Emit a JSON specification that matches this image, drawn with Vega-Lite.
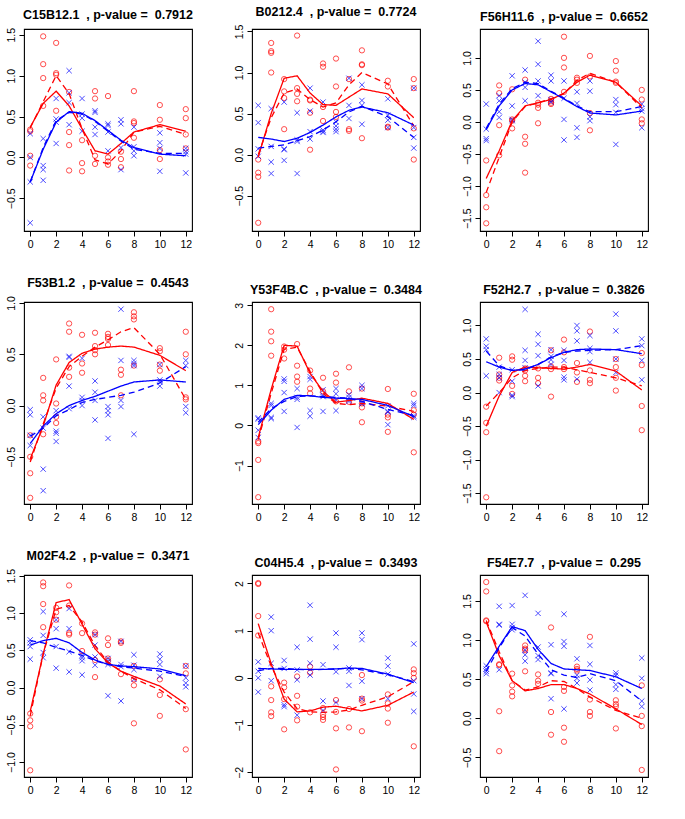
{
"$schema":"https://vega.github.io/schema/vega-lite/v6.json",
"padding":5,
"columns":3,
"spacing":{"row":71,"column":60},
"bounds":"flush",
"config":{
"font":"Liberation Sans",
"view":{"stroke":"#000","strokeWidth":1.1},
"axis":{"domain":false,"grid":false,"tickColor":"#000","tickSize":5,"tickWidth":1,"labelColor":"#000","labelFontSize":10.5,"labelPadding":3,"title":null},
"axisY":{"labelAngle":-90},
"title":{"fontSize":12.5,"fontWeight":"bold","color":"#000","offset":6,"frame":"group","anchor":"middle"}
},
"datasets":{
"P":[
{"p":1,"s":"r","t":0,"v":0.34},{"p":1,"s":"r","t":0,"v":0.32},{"p":1,"s":"r","t":0,"v":0.02},{"p":1,"s":"r","t":0,"v":-0.10},
{"p":1,"s":"r","t":1,"v":1.48},{"p":1,"s":"r","t":1,"v":1.14},{"p":1,"s":"r","t":1,"v":0.97},{"p":1,"s":"r","t":1,"v":0.63},
{"p":1,"s":"r","t":2,"v":1.40},{"p":1,"s":"r","t":2,"v":1.03},{"p":1,"s":"r","t":2,"v":1.01},{"p":1,"s":"r","t":2,"v":0.57},
{"p":1,"s":"r","t":3,"v":0.80},{"p":1,"s":"r","t":3,"v":0.31},{"p":1,"s":"r","t":3,"v":0.15},{"p":1,"s":"r","t":3,"v":-0.16},
{"p":1,"s":"r","t":4,"v":0.21},{"p":1,"s":"r","t":4,"v":-0.07},{"p":1,"s":"r","t":4,"v":-0.17},
{"p":1,"s":"r","t":5,"v":0.81},{"p":1,"s":"r","t":5,"v":0.72},{"p":1,"s":"r","t":5,"v":0.02},{"p":1,"s":"r","t":5,"v":-0.08},
{"p":1,"s":"r","t":6,"v":0.75},{"p":1,"s":"r","t":6,"v":0.00},{"p":1,"s":"r","t":6,"v":-0.05},{"p":1,"s":"r","t":6,"v":-0.09},
{"p":1,"s":"r","t":7,"v":0.07},{"p":1,"s":"r","t":7,"v":-0.02},{"p":1,"s":"r","t":7,"v":-0.12},
{"p":1,"s":"r","t":8,"v":0.81},{"p":1,"s":"r","t":8,"v":0.44},{"p":1,"s":"r","t":8,"v":0.42},{"p":1,"s":"r","t":8,"v":0.24},
{"p":1,"s":"r","t":10,"v":0.64},{"p":1,"s":"r","t":10,"v":0.46},{"p":1,"s":"r","t":10,"v":0.09},{"p":1,"s":"r","t":10,"v":-0.02},
{"p":1,"s":"r","t":12,"v":0.59},{"p":1,"s":"r","t":12,"v":0.48},{"p":1,"s":"r","t":12,"v":0.28},{"p":1,"s":"r","t":12,"v":0.11},
{"p":1,"s":"b","t":0,"v":0.29},{"p":1,"s":"b","t":0,"v":0.00},{"p":1,"s":"b","t":0,"v":-0.30},{"p":1,"s":"b","t":0,"v":-0.80},
{"p":1,"s":"b","t":1,"v":0.23},{"p":1,"s":"b","t":1,"v":-0.10},{"p":1,"s":"b","t":1,"v":-0.15},{"p":1,"s":"b","t":1,"v":-0.28},
{"p":1,"s":"b","t":2,"v":0.72},{"p":1,"s":"b","t":2,"v":0.47},{"p":1,"s":"b","t":2,"v":0.43},{"p":1,"s":"b","t":2,"v":0.17},
{"p":1,"s":"b","t":3,"v":1.06},{"p":1,"s":"b","t":3,"v":0.79},{"p":1,"s":"b","t":3,"v":0.67},{"p":1,"s":"b","t":3,"v":0.40},
{"p":1,"s":"b","t":4,"v":0.72},{"p":1,"s":"b","t":4,"v":0.53},{"p":1,"s":"b","t":4,"v":0.48},{"p":1,"s":"b","t":4,"v":0.32},
{"p":1,"s":"b","t":5,"v":0.57},{"p":1,"s":"b","t":5,"v":0.55},{"p":1,"s":"b","t":5,"v":0.37},{"p":1,"s":"b","t":5,"v":0.28},
{"p":1,"s":"b","t":6,"v":0.41},{"p":1,"s":"b","t":6,"v":0.39},{"p":1,"s":"b","t":6,"v":0.31},{"p":1,"s":"b","t":6,"v":0.08},
{"p":1,"s":"b","t":7,"v":0.46},{"p":1,"s":"b","t":7,"v":0.41},{"p":1,"s":"b","t":7,"v":0.12},{"p":1,"s":"b","t":7,"v":-0.15},
{"p":1,"s":"b","t":8,"v":0.37},{"p":1,"s":"b","t":8,"v":0.13},{"p":1,"s":"b","t":8,"v":0.08},{"p":1,"s":"b","t":8,"v":0.02},
{"p":1,"s":"b","t":10,"v":0.30},{"p":1,"s":"b","t":10,"v":0.18},{"p":1,"s":"b","t":10,"v":0.11},{"p":1,"s":"b","t":10,"v":-0.17},
{"p":1,"s":"b","t":12,"v":0.11},{"p":1,"s":"b","t":12,"v":0.07},{"p":1,"s":"b","t":12,"v":0.04},{"p":1,"s":"b","t":12,"v":-0.19},

{"p":2,"s":"r","t":0,"v":-0.06},{"p":2,"s":"r","t":0,"v":-0.22},{"p":2,"s":"r","t":0,"v":-0.27},{"p":2,"s":"r","t":0,"v":-0.83},
{"p":2,"s":"r","t":1,"v":1.36},{"p":2,"s":"r","t":1,"v":1.26},{"p":2,"s":"r","t":1,"v":1.24},{"p":2,"s":"r","t":1,"v":1.00},
{"p":2,"s":"r","t":2,"v":0.92},{"p":2,"s":"r","t":2,"v":0.77},{"p":2,"s":"r","t":2,"v":0.69},{"p":2,"s":"r","t":2,"v":0.31},
{"p":2,"s":"r","t":3,"v":1.45},{"p":2,"s":"r","t":3,"v":0.81},{"p":2,"s":"r","t":3,"v":0.74},{"p":2,"s":"r","t":3,"v":0.65},
{"p":2,"s":"r","t":4,"v":0.67},{"p":2,"s":"r","t":4,"v":0.66},{"p":2,"s":"r","t":4,"v":0.51},{"p":2,"s":"r","t":4,"v":0.06},
{"p":2,"s":"r","t":5,"v":1.11},{"p":2,"s":"r","t":5,"v":1.07},{"p":2,"s":"r","t":5,"v":0.58},{"p":2,"s":"r","t":5,"v":0.41},
{"p":2,"s":"r","t":6,"v":1.17},{"p":2,"s":"r","t":6,"v":0.83},{"p":2,"s":"r","t":6,"v":0.52},{"p":2,"s":"r","t":6,"v":0.46},
{"p":2,"s":"r","t":7,"v":0.92},{"p":2,"s":"r","t":7,"v":0.31},{"p":2,"s":"r","t":7,"v":0.29},
{"p":2,"s":"r","t":8,"v":1.27},{"p":2,"s":"r","t":8,"v":1.10},{"p":2,"s":"r","t":8,"v":1.09},{"p":2,"s":"r","t":8,"v":0.20},
{"p":2,"s":"r","t":10,"v":0.90},{"p":2,"s":"r","t":10,"v":0.83},{"p":2,"s":"r","t":10,"v":0.34},{"p":2,"s":"r","t":10,"v":0.33},
{"p":2,"s":"r","t":12,"v":0.92},{"p":2,"s":"r","t":12,"v":0.81},{"p":2,"s":"r","t":12,"v":0.32},{"p":2,"s":"r","t":12,"v":-0.06},
{"p":2,"s":"b","t":0,"v":0.60},{"p":2,"s":"b","t":0,"v":0.39},{"p":2,"s":"b","t":0,"v":0.07},{"p":2,"s":"b","t":0,"v":-0.02},
{"p":2,"s":"b","t":1,"v":0.56},{"p":2,"s":"b","t":1,"v":0.10},{"p":2,"s":"b","t":1,"v":-0.09},{"p":2,"s":"b","t":1,"v":-0.23},
{"p":2,"s":"b","t":2,"v":0.64},{"p":2,"s":"b","t":2,"v":0.07},{"p":2,"s":"b","t":2,"v":0.06},{"p":2,"s":"b","t":2,"v":-0.07},
{"p":2,"s":"b","t":3,"v":0.51},{"p":2,"s":"b","t":3,"v":0.18},{"p":2,"s":"b","t":3,"v":0.16},{"p":2,"s":"b","t":3,"v":-0.23},
{"p":2,"s":"b","t":4,"v":0.81},{"p":2,"s":"b","t":4,"v":0.53},{"p":2,"s":"b","t":4,"v":0.28},{"p":2,"s":"b","t":4,"v":0.19},
{"p":2,"s":"b","t":5,"v":0.64},{"p":2,"s":"b","t":5,"v":0.30},{"p":2,"s":"b","t":5,"v":0.28},{"p":2,"s":"b","t":5,"v":0.27},
{"p":2,"s":"b","t":6,"v":0.40},{"p":2,"s":"b","t":6,"v":0.35},{"p":2,"s":"b","t":6,"v":0.31},{"p":2,"s":"b","t":6,"v":0.28},
{"p":2,"s":"b","t":7,"v":0.93},{"p":2,"s":"b","t":7,"v":0.60},{"p":2,"s":"b","t":7,"v":0.44},
{"p":2,"s":"b","t":8,"v":0.85},{"p":2,"s":"b","t":8,"v":0.66},{"p":2,"s":"b","t":8,"v":0.60},{"p":2,"s":"b","t":8,"v":0.37},
{"p":2,"s":"b","t":10,"v":0.68},{"p":2,"s":"b","t":10,"v":0.48},{"p":2,"s":"b","t":10,"v":0.42},{"p":2,"s":"b","t":10,"v":0.33},
{"p":2,"s":"b","t":12,"v":0.81},{"p":2,"s":"b","t":12,"v":0.33},{"p":2,"s":"b","t":12,"v":0.21},{"p":2,"s":"b","t":12,"v":0.08},

{"p":3,"s":"r","t":0,"v":-0.60},{"p":3,"s":"r","t":0,"v":-1.14},{"p":3,"s":"r","t":0,"v":-1.33},{"p":3,"s":"r","t":0,"v":-1.58},
{"p":3,"s":"r","t":1,"v":0.57},{"p":3,"s":"r","t":1,"v":0.45},{"p":3,"s":"r","t":1,"v":-0.05},{"p":3,"s":"r","t":1,"v":-0.52},
{"p":3,"s":"r","t":2,"v":0.51},{"p":3,"s":"r","t":2,"v":0.04},{"p":3,"s":"r","t":2,"v":0.02},{"p":3,"s":"r","t":2,"v":-0.10},
{"p":3,"s":"r","t":3,"v":0.66},{"p":3,"s":"r","t":3,"v":-0.23},{"p":3,"s":"r","t":3,"v":-0.34},{"p":3,"s":"r","t":3,"v":-0.79},
{"p":3,"s":"r","t":4,"v":0.30},{"p":3,"s":"r","t":4,"v":0.27},{"p":3,"s":"r","t":4,"v":0.22},{"p":3,"s":"r","t":4,"v":-0.02},
{"p":3,"s":"r","t":5,"v":0.36},{"p":3,"s":"r","t":5,"v":0.33},{"p":3,"s":"r","t":5,"v":0.30},{"p":3,"s":"r","t":5,"v":0.28},
{"p":3,"s":"r","t":6,"v":1.33},{"p":3,"s":"r","t":6,"v":1.00},{"p":3,"s":"r","t":6,"v":0.85},{"p":3,"s":"r","t":6,"v":0.47},
{"p":3,"s":"r","t":7,"v":0.69},{"p":3,"s":"r","t":7,"v":0.66},{"p":3,"s":"r","t":7,"v":0.61},
{"p":3,"s":"r","t":8,"v":1.03},{"p":3,"s":"r","t":8,"v":0.71},{"p":3,"s":"r","t":8,"v":0.14},{"p":3,"s":"r","t":8,"v":-0.13},
{"p":3,"s":"r","t":10,"v":0.95},{"p":3,"s":"r","t":10,"v":0.80},{"p":3,"s":"r","t":10,"v":0.63},{"p":3,"s":"r","t":10,"v":0.61},
{"p":3,"s":"r","t":12,"v":0.50},{"p":3,"s":"r","t":12,"v":0.35},{"p":3,"s":"r","t":12,"v":0.04},{"p":3,"s":"r","t":12,"v":-0.02},
{"p":3,"s":"b","t":0,"v":0.28},{"p":3,"s":"b","t":0,"v":-0.11},{"p":3,"s":"b","t":0,"v":-0.26},{"p":3,"s":"b","t":0,"v":-0.29},
{"p":3,"s":"b","t":1,"v":0.41},{"p":3,"s":"b","t":1,"v":0.33},{"p":3,"s":"b","t":1,"v":0.16},{"p":3,"s":"b","t":1,"v":0.07},
{"p":3,"s":"b","t":2,"v":0.72},{"p":3,"s":"b","t":2,"v":0.25},{"p":3,"s":"b","t":2,"v":0.04},{"p":3,"s":"b","t":2,"v":0.02},
{"p":3,"s":"b","t":3,"v":0.81},{"p":3,"s":"b","t":3,"v":0.62},{"p":3,"s":"b","t":3,"v":0.54},{"p":3,"s":"b","t":3,"v":0.33},
{"p":3,"s":"b","t":4,"v":1.26},{"p":3,"s":"b","t":4,"v":0.90},{"p":3,"s":"b","t":4,"v":0.64},{"p":3,"s":"b","t":4,"v":0.41},
{"p":3,"s":"b","t":5,"v":0.73},{"p":3,"s":"b","t":5,"v":0.64},{"p":3,"s":"b","t":5,"v":0.35},{"p":3,"s":"b","t":5,"v":0.31},
{"p":3,"s":"b","t":6,"v":0.64},{"p":3,"s":"b","t":6,"v":0.37},{"p":3,"s":"b","t":6,"v":0.04},{"p":3,"s":"b","t":6,"v":-0.28},
{"p":3,"s":"b","t":7,"v":0.47},{"p":3,"s":"b","t":7,"v":0.29},{"p":3,"s":"b","t":7,"v":-0.09},{"p":3,"s":"b","t":7,"v":-0.24},
{"p":3,"s":"b","t":8,"v":0.64},{"p":3,"s":"b","t":8,"v":0.48},{"p":3,"s":"b","t":8,"v":0.08},{"p":3,"s":"b","t":8,"v":0.02},
{"p":3,"s":"b","t":10,"v":0.35},{"p":3,"s":"b","t":10,"v":0.27},{"p":3,"s":"b","t":10,"v":0.15},{"p":3,"s":"b","t":10,"v":-0.35},
{"p":3,"s":"b","t":12,"v":0.28},{"p":3,"s":"b","t":12,"v":0.21},{"p":3,"s":"b","t":12,"v":0.17},{"p":3,"s":"b","t":12,"v":-0.09},

{"p":4,"s":"r","t":0,"v":-0.29},{"p":4,"s":"r","t":0,"v":-0.50},{"p":4,"s":"r","t":0,"v":-0.66},{"p":4,"s":"r","t":0,"v":-0.90},
{"p":4,"s":"r","t":1,"v":0.27},{"p":4,"s":"r","t":1,"v":0.10},{"p":4,"s":"r","t":1,"v":0.05},{"p":4,"s":"r","t":1,"v":-0.28},
{"p":4,"s":"r","t":2,"v":0.45},{"p":4,"s":"r","t":2,"v":0.02},{"p":4,"s":"r","t":2,"v":-0.11},{"p":4,"s":"r","t":2,"v":-0.17},
{"p":4,"s":"r","t":3,"v":0.80},{"p":4,"s":"r","t":3,"v":0.72},{"p":4,"s":"r","t":3,"v":0.37},{"p":4,"s":"r","t":3,"v":0.28},
{"p":4,"s":"r","t":4,"v":0.69},{"p":4,"s":"r","t":4,"v":0.41},{"p":4,"s":"r","t":4,"v":0.32},
{"p":4,"s":"r","t":5,"v":0.71},{"p":4,"s":"r","t":5,"v":0.58},{"p":4,"s":"r","t":5,"v":0.54},{"p":4,"s":"r","t":5,"v":0.50},
{"p":4,"s":"r","t":6,"v":0.70},{"p":4,"s":"r","t":6,"v":0.67},{"p":4,"s":"r","t":6,"v":0.65},{"p":4,"s":"r","t":6,"v":0.59},
{"p":4,"s":"r","t":7,"v":0.35},{"p":4,"s":"r","t":7,"v":0.30},{"p":4,"s":"r","t":7,"v":0.10},
{"p":4,"s":"r","t":8,"v":0.91},{"p":4,"s":"r","t":8,"v":0.87},{"p":4,"s":"r","t":8,"v":0.84},{"p":4,"s":"r","t":8,"v":0.39},
{"p":4,"s":"r","t":10,"v":0.56},{"p":4,"s":"r","t":10,"v":0.53},{"p":4,"s":"r","t":10,"v":0.40},{"p":4,"s":"r","t":10,"v":0.34},
{"p":4,"s":"r","t":12,"v":0.72},{"p":4,"s":"r","t":12,"v":0.50},{"p":4,"s":"r","t":12,"v":0.08},{"p":4,"s":"r","t":12,"v":0.06},
{"p":4,"s":"b","t":0,"v":-0.04},{"p":4,"s":"b","t":0,"v":-0.09},{"p":4,"s":"b","t":0,"v":-0.29},{"p":4,"s":"b","t":0,"v":-0.39},
{"p":4,"s":"b","t":1,"v":-0.11},{"p":4,"s":"b","t":1,"v":-0.22},{"p":4,"s":"b","t":1,"v":-0.62},{"p":4,"s":"b","t":1,"v":-0.83},
{"p":4,"s":"b","t":2,"v":-0.05},{"p":4,"s":"b","t":2,"v":-0.25},{"p":4,"s":"b","t":2,"v":-0.27},{"p":4,"s":"b","t":2,"v":-0.35},
{"p":4,"s":"b","t":3,"v":0.48},{"p":4,"s":"b","t":3,"v":0.47},{"p":4,"s":"b","t":3,"v":0.19},{"p":4,"s":"b","t":3,"v":-0.03},
{"p":4,"s":"b","t":4,"v":0.46},{"p":4,"s":"b","t":4,"v":0.08},{"p":4,"s":"b","t":4,"v":0.05},{"p":4,"s":"b","t":4,"v":0.00},
{"p":4,"s":"b","t":5,"v":0.24},{"p":4,"s":"b","t":5,"v":0.13},{"p":4,"s":"b","t":5,"v":0.05},{"p":4,"s":"b","t":5,"v":-0.14},
{"p":4,"s":"b","t":6,"v":-0.01},{"p":4,"s":"b","t":6,"v":-0.05},{"p":4,"s":"b","t":6,"v":-0.09},{"p":4,"s":"b","t":6,"v":-0.32},
{"p":4,"s":"b","t":7,"v":0.94},{"p":4,"s":"b","t":7,"v":0.44},{"p":4,"s":"b","t":7,"v":0.05},{"p":4,"s":"b","t":7,"v":-0.01},
{"p":4,"s":"b","t":8,"v":0.44},{"p":4,"s":"b","t":8,"v":0.41},{"p":4,"s":"b","t":8,"v":0.39},{"p":4,"s":"b","t":8,"v":-0.28},
{"p":4,"s":"b","t":10,"v":0.40},{"p":4,"s":"b","t":10,"v":0.25},{"p":4,"s":"b","t":10,"v":0.23},{"p":4,"s":"b","t":10,"v":0.19},
{"p":4,"s":"b","t":12,"v":0.44},{"p":4,"s":"b","t":12,"v":0.39},{"p":4,"s":"b","t":12,"v":-0.01},{"p":4,"s":"b","t":12,"v":-0.07},

{"p":5,"s":"r","t":0,"v":-0.40},{"p":5,"s":"r","t":0,"v":-0.44},{"p":5,"s":"r","t":0,"v":-0.86},{"p":5,"s":"r","t":0,"v":-1.79},
{"p":5,"s":"r","t":1,"v":2.90},{"p":5,"s":"r","t":1,"v":2.34},{"p":5,"s":"r","t":1,"v":2.10},{"p":5,"s":"r","t":1,"v":1.74},
{"p":5,"s":"r","t":2,"v":1.97},{"p":5,"s":"r","t":2,"v":1.89},{"p":5,"s":"r","t":2,"v":1.67},
{"p":5,"s":"r","t":3,"v":2.03},{"p":5,"s":"r","t":3,"v":1.49},{"p":5,"s":"r","t":3,"v":1.22},{"p":5,"s":"r","t":3,"v":1.09},
{"p":5,"s":"r","t":4,"v":1.37},{"p":5,"s":"r","t":4,"v":0.92},{"p":5,"s":"r","t":4,"v":0.80},
{"p":5,"s":"r","t":5,"v":1.19},{"p":5,"s":"r","t":5,"v":0.85},
{"p":5,"s":"r","t":6,"v":1.29},{"p":5,"s":"r","t":6,"v":1.07},{"p":5,"s":"r","t":6,"v":0.60},
{"p":5,"s":"r","t":7,"v":1.45},{"p":5,"s":"r","t":7,"v":0.85},{"p":5,"s":"r","t":7,"v":0.59},
{"p":5,"s":"r","t":8,"v":0.92},{"p":5,"s":"r","t":8,"v":0.55},{"p":5,"s":"r","t":8,"v":0.45},{"p":5,"s":"r","t":8,"v":0.08},
{"p":5,"s":"r","t":10,"v":0.91},{"p":5,"s":"r","t":10,"v":0.27},{"p":5,"s":"r","t":10,"v":0.20},{"p":5,"s":"r","t":10,"v":-0.16},
{"p":5,"s":"r","t":12,"v":0.79},{"p":5,"s":"r","t":12,"v":0.38},{"p":5,"s":"r","t":12,"v":0.27},{"p":5,"s":"r","t":12,"v":-0.67},
{"p":5,"s":"b","t":0,"v":0.19},{"p":5,"s":"b","t":0,"v":0.16},{"p":5,"s":"b","t":0,"v":-0.12},{"p":5,"s":"b","t":0,"v":-0.30},
{"p":5,"s":"b","t":1,"v":0.55},{"p":5,"s":"b","t":1,"v":0.50},{"p":5,"s":"b","t":1,"v":0.20},{"p":5,"s":"b","t":1,"v":0.17},
{"p":5,"s":"b","t":2,"v":1.16},{"p":5,"s":"b","t":2,"v":1.10},{"p":5,"s":"b","t":2,"v":0.82},{"p":5,"s":"b","t":2,"v":0.35},
{"p":5,"s":"b","t":3,"v":0.92},{"p":5,"s":"b","t":3,"v":0.70},{"p":5,"s":"b","t":3,"v":0.65},{"p":5,"s":"b","t":3,"v":-0.05},
{"p":5,"s":"b","t":4,"v":1.22},{"p":5,"s":"b","t":4,"v":1.15},{"p":5,"s":"b","t":4,"v":0.37},{"p":5,"s":"b","t":4,"v":0.23},
{"p":5,"s":"b","t":5,"v":0.89},{"p":5,"s":"b","t":5,"v":0.75},{"p":5,"s":"b","t":5,"v":0.72},{"p":5,"s":"b","t":5,"v":0.35},
{"p":5,"s":"b","t":6,"v":0.92},{"p":5,"s":"b","t":6,"v":0.79},{"p":5,"s":"b","t":6,"v":0.64},{"p":5,"s":"b","t":6,"v":0.37},
{"p":5,"s":"b","t":7,"v":0.77},{"p":5,"s":"b","t":7,"v":0.70},{"p":5,"s":"b","t":7,"v":0.64},{"p":5,"s":"b","t":7,"v":0.60},
{"p":5,"s":"b","t":8,"v":1.00},{"p":5,"s":"b","t":8,"v":0.92},{"p":5,"s":"b","t":8,"v":0.57},{"p":5,"s":"b","t":8,"v":0.54},
{"p":5,"s":"b","t":10,"v":0.49},{"p":5,"s":"b","t":10,"v":0.35},{"p":5,"s":"b","t":10,"v":0.33},{"p":5,"s":"b","t":10,"v":0.02},
{"p":5,"s":"b","t":12,"v":0.55},{"p":5,"s":"b","t":12,"v":0.50},{"p":5,"s":"b","t":12,"v":0.24},{"p":5,"s":"b","t":12,"v":0.20},

{"p":6,"s":"r","t":0,"v":-0.21},{"p":6,"s":"r","t":0,"v":-0.45},{"p":6,"s":"r","t":0,"v":-0.59},{"p":6,"s":"r","t":0,"v":-1.56},
{"p":6,"s":"r","t":1,"v":0.52},{"p":6,"s":"r","t":1,"v":0.27},{"p":6,"s":"r","t":1,"v":0.22},{"p":6,"s":"r","t":1,"v":0.18},
{"p":6,"s":"r","t":2,"v":0.54},{"p":6,"s":"r","t":2,"v":0.49},{"p":6,"s":"r","t":2,"v":0.10},{"p":6,"s":"r","t":2,"v":-0.02},
{"p":6,"s":"r","t":3,"v":0.36},{"p":6,"s":"r","t":3,"v":0.33},{"p":6,"s":"r","t":3,"v":0.25},{"p":6,"s":"r","t":3,"v":0.17},
{"p":6,"s":"r","t":4,"v":0.36},{"p":6,"s":"r","t":4,"v":0.22},{"p":6,"s":"r","t":4,"v":0.14},
{"p":6,"s":"r","t":5,"v":0.63},{"p":6,"s":"r","t":5,"v":0.39},{"p":6,"s":"r","t":5,"v":0.35},{"p":6,"s":"r","t":5,"v":-0.06},
{"p":6,"s":"r","t":6,"v":0.79},{"p":6,"s":"r","t":6,"v":0.60},{"p":6,"s":"r","t":6,"v":0.38},{"p":6,"s":"r","t":6,"v":0.35},
{"p":6,"s":"r","t":7,"v":0.44},{"p":6,"s":"r","t":7,"v":0.30},{"p":6,"s":"r","t":7,"v":0.16},
{"p":6,"s":"r","t":8,"v":0.91},{"p":6,"s":"r","t":8,"v":0.33},{"p":6,"s":"r","t":8,"v":0.19},{"p":6,"s":"r","t":8,"v":0.14},
{"p":6,"s":"r","t":10,"v":0.50},{"p":6,"s":"r","t":10,"v":0.38},{"p":6,"s":"r","t":10,"v":0.22},{"p":6,"s":"r","t":10,"v":0.03},
{"p":6,"s":"r","t":12,"v":0.59},{"p":6,"s":"r","t":12,"v":0.41},{"p":6,"s":"r","t":12,"v":-0.20},{"p":6,"s":"r","t":12,"v":-0.56},
{"p":6,"s":"b","t":0,"v":0.80},{"p":6,"s":"b","t":0,"v":0.69},{"p":6,"s":"b","t":0,"v":0.64},{"p":6,"s":"b","t":0,"v":0.25},
{"p":6,"s":"b","t":1,"v":0.38},{"p":6,"s":"b","t":1,"v":0.27},{"p":6,"s":"b","t":1,"v":0.22},{"p":6,"s":"b","t":1,"v":0.00},
{"p":6,"s":"b","t":2,"v":0.34},{"p":6,"s":"b","t":2,"v":0.17},{"p":6,"s":"b","t":2,"v":-0.04},{"p":6,"s":"b","t":2,"v":-0.06},
{"p":6,"s":"b","t":3,"v":1.24},{"p":6,"s":"b","t":3,"v":0.63},{"p":6,"s":"b","t":3,"v":0.48},{"p":6,"s":"b","t":3,"v":0.37},
{"p":6,"s":"b","t":4,"v":0.87},{"p":6,"s":"b","t":4,"v":0.72},{"p":6,"s":"b","t":4,"v":0.55},{"p":6,"s":"b","t":4,"v":0.10},
{"p":6,"s":"b","t":5,"v":0.64},{"p":6,"s":"b","t":5,"v":0.54},{"p":6,"s":"b","t":5,"v":0.49},{"p":6,"s":"b","t":5,"v":0.42},
{"p":6,"s":"b","t":6,"v":0.63},{"p":6,"s":"b","t":6,"v":0.48},{"p":6,"s":"b","t":6,"v":0.23},{"p":6,"s":"b","t":6,"v":0.19},
{"p":6,"s":"b","t":7,"v":1.00},{"p":6,"s":"b","t":7,"v":0.92},{"p":6,"s":"b","t":7,"v":0.77},{"p":6,"s":"b","t":7,"v":0.20},
{"p":6,"s":"b","t":8,"v":0.85},{"p":6,"s":"b","t":8,"v":0.66},{"p":6,"s":"b","t":8,"v":0.61},{"p":6,"s":"b","t":8,"v":0.45},
{"p":6,"s":"b","t":10,"v":1.17},{"p":6,"s":"b","t":10,"v":0.92},{"p":6,"s":"b","t":10,"v":0.50},{"p":6,"s":"b","t":10,"v":0.30},
{"p":6,"s":"b","t":12,"v":0.80},{"p":6,"s":"b","t":12,"v":0.70},{"p":6,"s":"b","t":12,"v":0.48},{"p":6,"s":"b","t":12,"v":0.19},

{"p":7,"s":"r","t":0,"v":-0.35},{"p":7,"s":"r","t":0,"v":-0.44},{"p":7,"s":"r","t":0,"v":-0.52},{"p":7,"s":"r","t":0,"v":-1.11},
{"p":7,"s":"r","t":1,"v":1.41},{"p":7,"s":"r","t":1,"v":1.36},{"p":7,"s":"r","t":1,"v":1.12},{"p":7,"s":"r","t":1,"v":0.81},
{"p":7,"s":"r","t":2,"v":1.07},{"p":7,"s":"r","t":2,"v":1.01},{"p":7,"s":"r","t":2,"v":0.91},
{"p":7,"s":"r","t":3,"v":1.37},{"p":7,"s":"r","t":3,"v":1.10},{"p":7,"s":"r","t":3,"v":0.73},{"p":7,"s":"r","t":3,"v":0.71},
{"p":7,"s":"r","t":4,"v":0.86},{"p":7,"s":"r","t":4,"v":0.73},{"p":7,"s":"r","t":4,"v":0.49},
{"p":7,"s":"r","t":5,"v":0.74},{"p":7,"s":"r","t":5,"v":0.71},{"p":7,"s":"r","t":5,"v":0.37},{"p":7,"s":"r","t":5,"v":0.14},
{"p":7,"s":"r","t":6,"v":0.66},{"p":7,"s":"r","t":6,"v":0.57},{"p":7,"s":"r","t":6,"v":0.39},{"p":7,"s":"r","t":6,"v":0.36},
{"p":7,"s":"r","t":7,"v":0.62},{"p":7,"s":"r","t":7,"v":0.60},{"p":7,"s":"r","t":7,"v":0.18},
{"p":7,"s":"r","t":8,"v":0.29},{"p":7,"s":"r","t":8,"v":0.11},{"p":7,"s":"r","t":8,"v":0.03},{"p":7,"s":"r","t":8,"v":-0.48},
{"p":7,"s":"r","t":10,"v":0.11},{"p":7,"s":"r","t":10,"v":-0.10},{"p":7,"s":"r","t":10,"v":-0.38},
{"p":7,"s":"r","t":12,"v":0.29},{"p":7,"s":"r","t":12,"v":0.19},{"p":7,"s":"r","t":12,"v":-0.29},{"p":7,"s":"r","t":12,"v":-0.83},
{"p":7,"s":"b","t":0,"v":0.64},{"p":7,"s":"b","t":0,"v":0.60},{"p":7,"s":"b","t":0,"v":0.55},{"p":7,"s":"b","t":0,"v":0.38},
{"p":7,"s":"b","t":1,"v":1.02},{"p":7,"s":"b","t":1,"v":0.70},{"p":7,"s":"b","t":1,"v":0.47},{"p":7,"s":"b","t":1,"v":0.40},
{"p":7,"s":"b","t":2,"v":0.91},{"p":7,"s":"b","t":2,"v":0.79},{"p":7,"s":"b","t":2,"v":0.55},{"p":7,"s":"b","t":2,"v":0.26},
{"p":7,"s":"b","t":3,"v":1.06},{"p":7,"s":"b","t":3,"v":0.79},{"p":7,"s":"b","t":3,"v":0.48},{"p":7,"s":"b","t":3,"v":0.21},
{"p":7,"s":"b","t":4,"v":0.43},{"p":7,"s":"b","t":4,"v":0.40},{"p":7,"s":"b","t":4,"v":0.36},{"p":7,"s":"b","t":4,"v":0.17},
{"p":7,"s":"b","t":5,"v":0.71},{"p":7,"s":"b","t":5,"v":0.57},{"p":7,"s":"b","t":5,"v":0.41},{"p":7,"s":"b","t":5,"v":0.30},
{"p":7,"s":"b","t":6,"v":0.39},{"p":7,"s":"b","t":6,"v":0.35},{"p":7,"s":"b","t":6,"v":0.31},{"p":7,"s":"b","t":6,"v":-0.11},
{"p":7,"s":"b","t":7,"v":0.62},{"p":7,"s":"b","t":7,"v":0.31},{"p":7,"s":"b","t":7,"v":0.28},{"p":7,"s":"b","t":7,"v":-0.18},
{"p":7,"s":"b","t":8,"v":0.44},{"p":7,"s":"b","t":8,"v":0.30},{"p":7,"s":"b","t":8,"v":0.24},{"p":7,"s":"b","t":8,"v":0.11},
{"p":7,"s":"b","t":10,"v":0.45},{"p":7,"s":"b","t":10,"v":0.38},{"p":7,"s":"b","t":10,"v":0.31},{"p":7,"s":"b","t":10,"v":0.15},
{"p":7,"s":"b","t":12,"v":0.29},{"p":7,"s":"b","t":12,"v":0.13},{"p":7,"s":"b","t":12,"v":0.06},{"p":7,"s":"b","t":12,"v":0.01},

{"p":8,"s":"r","t":0,"v":2.01},{"p":8,"s":"r","t":0,"v":1.99},{"p":8,"s":"r","t":0,"v":1.31},{"p":8,"s":"r","t":0,"v":0.90},
{"p":8,"s":"r","t":1,"v":-0.18},{"p":8,"s":"r","t":1,"v":-0.47},{"p":8,"s":"r","t":1,"v":-0.73},{"p":8,"s":"r","t":1,"v":-0.81},
{"p":8,"s":"r","t":2,"v":-0.10},{"p":8,"s":"r","t":2,"v":-0.20},{"p":8,"s":"r","t":2,"v":-0.45},{"p":8,"s":"r","t":2,"v":-1.09},
{"p":8,"s":"r","t":3,"v":0.03},{"p":8,"s":"r","t":3,"v":-0.38},{"p":8,"s":"r","t":3,"v":-0.61},{"p":8,"s":"r","t":3,"v":-0.90},
{"p":8,"s":"r","t":4,"v":0.24},{"p":8,"s":"r","t":4,"v":0.11},{"p":8,"s":"r","t":4,"v":-0.73},
{"p":8,"s":"r","t":5,"v":-0.64},{"p":8,"s":"r","t":5,"v":-0.78},{"p":8,"s":"r","t":5,"v":-0.83},{"p":8,"s":"r","t":5,"v":-0.89},
{"p":8,"s":"r","t":6,"v":-0.47},{"p":8,"s":"r","t":6,"v":-0.72},{"p":8,"s":"r","t":6,"v":-1.07},{"p":8,"s":"r","t":6,"v":-1.94},
{"p":8,"s":"r","t":7,"v":-0.66},{"p":8,"s":"r","t":7,"v":-1.05},
{"p":8,"s":"r","t":8,"v":0.06},{"p":8,"s":"r","t":8,"v":-0.44},{"p":8,"s":"r","t":8,"v":-0.48},{"p":8,"s":"r","t":8,"v":-1.13},
{"p":8,"s":"r","t":10,"v":-0.35},{"p":8,"s":"r","t":10,"v":-0.54},{"p":8,"s":"r","t":10,"v":-0.65},{"p":8,"s":"r","t":10,"v":-0.95},
{"p":8,"s":"r","t":12,"v":0.18},{"p":8,"s":"r","t":12,"v":0.10},{"p":8,"s":"r","t":12,"v":0.00},{"p":8,"s":"r","t":12,"v":-1.45},
{"p":8,"s":"b","t":0,"v":0.34},{"p":8,"s":"b","t":0,"v":0.14},{"p":8,"s":"b","t":0,"v":0.00},{"p":8,"s":"b","t":0,"v":-0.30},
{"p":8,"s":"b","t":1,"v":1.29},{"p":8,"s":"b","t":1,"v":1.00},{"p":8,"s":"b","t":1,"v":0.31},{"p":8,"s":"b","t":1,"v":-0.06},
{"p":8,"s":"b","t":2,"v":0.37},{"p":8,"s":"b","t":2,"v":0.20},{"p":8,"s":"b","t":2,"v":-0.57},{"p":8,"s":"b","t":2,"v":-0.61},
{"p":8,"s":"b","t":3,"v":0.65},{"p":8,"s":"b","t":3,"v":0.17},{"p":8,"s":"b","t":3,"v":-0.04},{"p":8,"s":"b","t":3,"v":-0.79},
{"p":8,"s":"b","t":4,"v":1.54},{"p":8,"s":"b","t":4,"v":0.82},{"p":8,"s":"b","t":4,"v":0.31},{"p":8,"s":"b","t":4,"v":0.06},
{"p":8,"s":"b","t":5,"v":0.28},{"p":8,"s":"b","t":5,"v":-0.49},{"p":8,"s":"b","t":5,"v":-0.69},
{"p":8,"s":"b","t":6,"v":0.95},{"p":8,"s":"b","t":6,"v":0.65},{"p":8,"s":"b","t":6,"v":0.13},{"p":8,"s":"b","t":6,"v":-0.52},
{"p":8,"s":"b","t":7,"v":0.21},{"p":8,"s":"b","t":7,"v":0.14},{"p":8,"s":"b","t":7,"v":-0.16},
{"p":8,"s":"b","t":8,"v":0.95},{"p":8,"s":"b","t":8,"v":0.81},{"p":8,"s":"b","t":8,"v":-0.07},{"p":8,"s":"b","t":8,"v":-0.44},
{"p":8,"s":"b","t":10,"v":0.42},{"p":8,"s":"b","t":10,"v":0.25},{"p":8,"s":"b","t":10,"v":0.08},{"p":8,"s":"b","t":10,"v":-0.44},
{"p":8,"s":"b","t":12,"v":0.72},{"p":8,"s":"b","t":12,"v":-0.06},{"p":8,"s":"b","t":12,"v":-0.34},{"p":8,"s":"b","t":12,"v":-0.71},

{"p":9,"s":"r","t":0,"v":1.74},{"p":9,"s":"r","t":0,"v":1.62},{"p":9,"s":"r","t":0,"v":1.25},{"p":9,"s":"r","t":0,"v":1.24},
{"p":9,"s":"r","t":1,"v":0.69},{"p":9,"s":"r","t":1,"v":0.68},{"p":9,"s":"r","t":1,"v":0.09},{"p":9,"s":"r","t":1,"v":-0.42},
{"p":9,"s":"r","t":2,"v":0.57},{"p":9,"s":"r","t":2,"v":0.42},{"p":9,"s":"r","t":2,"v":0.34},{"p":9,"s":"r","t":2,"v":0.28},
{"p":9,"s":"r","t":3,"v":0.93},{"p":9,"s":"r","t":3,"v":0.89},{"p":9,"s":"r","t":3,"v":0.87},{"p":9,"s":"r","t":3,"v":0.60},
{"p":9,"s":"r","t":4,"v":0.56},{"p":9,"s":"r","t":4,"v":0.48},{"p":9,"s":"r","t":4,"v":0.44},
{"p":9,"s":"r","t":5,"v":1.16},{"p":9,"s":"r","t":5,"v":0.08},{"p":9,"s":"r","t":5,"v":-0.21},
{"p":9,"s":"r","t":6,"v":0.40},{"p":9,"s":"r","t":6,"v":0.35},{"p":9,"s":"r","t":6,"v":-0.12},{"p":9,"s":"r","t":6,"v":-0.30},
{"p":9,"s":"r","t":7,"v":0.66},{"p":9,"s":"r","t":7,"v":0.63},{"p":9,"s":"r","t":7,"v":0.61},
{"p":9,"s":"r","t":8,"v":1.04},{"p":9,"s":"r","t":8,"v":0.24},{"p":9,"s":"r","t":8,"v":0.08},{"p":9,"s":"r","t":8,"v":0.03},
{"p":9,"s":"r","t":10,"v":0.23},{"p":9,"s":"r","t":10,"v":0.18},{"p":9,"s":"r","t":10,"v":0.15},{"p":9,"s":"r","t":10,"v":-0.13},
{"p":9,"s":"r","t":12,"v":0.42},{"p":9,"s":"r","t":12,"v":0.03},{"p":9,"s":"r","t":12,"v":-0.10},{"p":9,"s":"r","t":12,"v":-0.66},
{"p":9,"s":"b","t":0,"v":0.67},{"p":9,"s":"b","t":0,"v":0.63},{"p":9,"s":"b","t":0,"v":0.60},{"p":9,"s":"b","t":0,"v":0.57},
{"p":9,"s":"b","t":1,"v":1.43},{"p":9,"s":"b","t":1,"v":1.20},{"p":9,"s":"b","t":1,"v":1.19},{"p":9,"s":"b","t":1,"v":0.62},
{"p":9,"s":"b","t":2,"v":1.44},{"p":9,"s":"b","t":2,"v":1.20},{"p":9,"s":"b","t":2,"v":1.16},{"p":9,"s":"b","t":2,"v":1.13},
{"p":9,"s":"b","t":3,"v":1.57},{"p":9,"s":"b","t":3,"v":0.87},{"p":9,"s":"b","t":3,"v":0.81},{"p":9,"s":"b","t":3,"v":0.73},
{"p":9,"s":"b","t":4,"v":1.34},{"p":9,"s":"b","t":4,"v":0.91},{"p":9,"s":"b","t":4,"v":0.80},{"p":9,"s":"b","t":4,"v":0.75},
{"p":9,"s":"b","t":5,"v":0.94},{"p":9,"s":"b","t":5,"v":0.58},{"p":9,"s":"b","t":5,"v":0.57},{"p":9,"s":"b","t":5,"v":0.25},
{"p":9,"s":"b","t":6,"v":1.33},{"p":9,"s":"b","t":6,"v":0.98},{"p":9,"s":"b","t":6,"v":0.92},{"p":9,"s":"b","t":6,"v":0.12},
{"p":9,"s":"b","t":7,"v":0.76},{"p":9,"s":"b","t":7,"v":0.55},{"p":9,"s":"b","t":7,"v":0.51},{"p":9,"s":"b","t":7,"v":0.45},
{"p":9,"s":"b","t":8,"v":0.93},{"p":9,"s":"b","t":8,"v":0.69},{"p":9,"s":"b","t":8,"v":0.49},{"p":9,"s":"b","t":8,"v":0.36},
{"p":9,"s":"b","t":10,"v":0.58},{"p":9,"s":"b","t":10,"v":0.55},{"p":9,"s":"b","t":10,"v":0.43},{"p":9,"s":"b","t":10,"v":0.37},
{"p":9,"s":"b","t":12,"v":0.77},{"p":9,"s":"b","t":12,"v":0.51},{"p":9,"s":"b","t":12,"v":0.22},{"p":9,"s":"b","t":12,"v":0.15}
],
"L":[
{"p":1,"s":"r","l":"a","t":0,"v":0.37},{"p":1,"s":"r","l":"a","t":1,"v":0.66},{"p":1,"s":"r","l":"a","t":2,"v":0.81},{"p":1,"s":"r","l":"a","t":3,"v":0.63},{"p":1,"s":"r","l":"a","t":4,"v":0.35},{"p":1,"s":"r","l":"a","t":5,"v":0.08},{"p":1,"s":"r","l":"a","t":6,"v":0.04},{"p":1,"s":"r","l":"a","t":7,"v":0.17},{"p":1,"s":"r","l":"a","t":8,"v":0.31},{"p":1,"s":"r","l":"a","t":10,"v":0.40},{"p":1,"s":"r","l":"a","t":12,"v":0.32},
{"p":1,"s":"r","l":"d","t":0,"v":0.36},{"p":1,"s":"r","l":"d","t":1,"v":0.68},{"p":1,"s":"r","l":"d","t":2,"v":1.00},{"p":1,"s":"r","l":"d","t":3,"v":0.78},{"p":1,"s":"r","l":"d","t":4,"v":0.35},{"p":1,"s":"r","l":"d","t":5,"v":-0.03},{"p":1,"s":"r","l":"d","t":6,"v":-0.08},{"p":1,"s":"r","l":"d","t":7,"v":0.08},{"p":1,"s":"r","l":"d","t":8,"v":0.31},{"p":1,"s":"r","l":"d","t":10,"v":0.38},{"p":1,"s":"r","l":"d","t":12,"v":0.28},
{"p":1,"s":"b","l":"a","t":0,"v":-0.30},{"p":1,"s":"b","l":"a","t":1,"v":0.10},{"p":1,"s":"b","l":"a","t":2,"v":0.43},{"p":1,"s":"b","l":"a","t":3,"v":0.56},{"p":1,"s":"b","l":"a","t":4,"v":0.54},{"p":1,"s":"b","l":"a","t":5,"v":0.45},{"p":1,"s":"b","l":"a","t":6,"v":0.33},{"p":1,"s":"b","l":"a","t":7,"v":0.21},{"p":1,"s":"b","l":"a","t":8,"v":0.12},{"p":1,"s":"b","l":"a","t":10,"v":0.04},{"p":1,"s":"b","l":"a","t":12,"v":0.02},
{"p":1,"s":"b","l":"d","t":0,"v":-0.30},{"p":1,"s":"b","l":"d","t":1,"v":0.12},{"p":1,"s":"b","l":"d","t":2,"v":0.45},{"p":1,"s":"b","l":"d","t":3,"v":0.55},{"p":1,"s":"b","l":"d","t":4,"v":0.53},{"p":1,"s":"b","l":"d","t":5,"v":0.44},{"p":1,"s":"b","l":"d","t":6,"v":0.32},{"p":1,"s":"b","l":"d","t":7,"v":0.20},{"p":1,"s":"b","l":"d","t":8,"v":0.10},{"p":1,"s":"b","l":"d","t":10,"v":0.05},{"p":1,"s":"b","l":"d","t":12,"v":0.05},

{"p":2,"s":"r","l":"a","t":0,"v":-0.03},{"p":2,"s":"r","l":"a","t":1,"v":0.50},{"p":2,"s":"r","l":"a","t":2,"v":0.93},{"p":2,"s":"r","l":"a","t":3,"v":0.96},{"p":2,"s":"r","l":"a","t":4,"v":0.75},{"p":2,"s":"r","l":"a","t":5,"v":0.61},{"p":2,"s":"r","l":"a","t":6,"v":0.60},{"p":2,"s":"r","l":"a","t":7,"v":0.70},{"p":2,"s":"r","l":"a","t":8,"v":0.80},{"p":2,"s":"r","l":"a","t":10,"v":0.74},{"p":2,"s":"r","l":"a","t":12,"v":0.45},
{"p":2,"s":"r","l":"d","t":0,"v":0.00},{"p":2,"s":"r","l":"d","t":1,"v":0.45},{"p":2,"s":"r","l":"d","t":2,"v":0.75},{"p":2,"s":"r","l":"d","t":3,"v":0.80},{"p":2,"s":"r","l":"d","t":4,"v":0.67},{"p":2,"s":"r","l":"d","t":5,"v":0.58},{"p":2,"s":"r","l":"d","t":6,"v":0.63},{"p":2,"s":"r","l":"d","t":7,"v":0.85},{"p":2,"s":"r","l":"d","t":8,"v":1.00},{"p":2,"s":"r","l":"d","t":10,"v":0.86},{"p":2,"s":"r","l":"d","t":12,"v":0.35},
{"p":2,"s":"b","l":"a","t":0,"v":0.21},{"p":2,"s":"b","l":"a","t":1,"v":0.19},{"p":2,"s":"b","l":"a","t":2,"v":0.16},{"p":2,"s":"b","l":"a","t":3,"v":0.20},{"p":2,"s":"b","l":"a","t":4,"v":0.27},{"p":2,"s":"b","l":"a","t":5,"v":0.36},{"p":2,"s":"b","l":"a","t":6,"v":0.46},{"p":2,"s":"b","l":"a","t":7,"v":0.54},{"p":2,"s":"b","l":"a","t":8,"v":0.58},{"p":2,"s":"b","l":"a","t":10,"v":0.51},{"p":2,"s":"b","l":"a","t":12,"v":0.36},
{"p":2,"s":"b","l":"d","t":0,"v":0.08},{"p":2,"s":"b","l":"d","t":1,"v":0.10},{"p":2,"s":"b","l":"d","t":2,"v":0.12},{"p":2,"s":"b","l":"d","t":3,"v":0.17},{"p":2,"s":"b","l":"d","t":4,"v":0.22},{"p":2,"s":"b","l":"d","t":5,"v":0.30},{"p":2,"s":"b","l":"d","t":6,"v":0.40},{"p":2,"s":"b","l":"d","t":7,"v":0.52},{"p":2,"s":"b","l":"d","t":8,"v":0.59},{"p":2,"s":"b","l":"d","t":10,"v":0.46},{"p":2,"s":"b","l":"d","t":12,"v":0.21},

{"p":3,"s":"r","l":"a","t":0,"v":-0.88},{"p":3,"s":"r","l":"a","t":1,"v":-0.45},{"p":3,"s":"r","l":"a","t":2,"v":0.02},{"p":3,"s":"r","l":"a","t":3,"v":0.25},{"p":3,"s":"r","l":"a","t":4,"v":0.30},{"p":3,"s":"r","l":"a","t":5,"v":0.35},{"p":3,"s":"r","l":"a","t":6,"v":0.45},{"p":3,"s":"r","l":"a","t":7,"v":0.62},{"p":3,"s":"r","l":"a","t":8,"v":0.73},{"p":3,"s":"r","l":"a","t":10,"v":0.62},{"p":3,"s":"r","l":"a","t":12,"v":0.25},
{"p":3,"s":"r","l":"d","t":0,"v":-1.10},{"p":3,"s":"r","l":"d","t":1,"v":-0.55},{"p":3,"s":"r","l":"d","t":2,"v":0.00},{"p":3,"s":"r","l":"d","t":3,"v":0.24},{"p":3,"s":"r","l":"d","t":4,"v":0.30},{"p":3,"s":"r","l":"d","t":5,"v":0.36},{"p":3,"s":"r","l":"d","t":6,"v":0.44},{"p":3,"s":"r","l":"d","t":7,"v":0.65},{"p":3,"s":"r","l":"d","t":8,"v":0.76},{"p":3,"s":"r","l":"d","t":10,"v":0.62},{"p":3,"s":"r","l":"d","t":12,"v":0.22},
{"p":3,"s":"b","l":"a","t":0,"v":-0.12},{"p":3,"s":"b","l":"a","t":1,"v":0.25},{"p":3,"s":"b","l":"a","t":2,"v":0.50},{"p":3,"s":"b","l":"a","t":3,"v":0.60},{"p":3,"s":"b","l":"a","t":4,"v":0.58},{"p":3,"s":"b","l":"a","t":5,"v":0.47},{"p":3,"s":"b","l":"a","t":6,"v":0.36},{"p":3,"s":"b","l":"a","t":7,"v":0.24},{"p":3,"s":"b","l":"a","t":8,"v":0.14},{"p":3,"s":"b","l":"a","t":10,"v":0.11},{"p":3,"s":"b","l":"a","t":12,"v":0.17},
{"p":3,"s":"b","l":"d","t":0,"v":-0.10},{"p":3,"s":"b","l":"d","t":1,"v":0.28},{"p":3,"s":"b","l":"d","t":2,"v":0.52},{"p":3,"s":"b","l":"d","t":3,"v":0.62},{"p":3,"s":"b","l":"d","t":4,"v":0.60},{"p":3,"s":"b","l":"d","t":5,"v":0.48},{"p":3,"s":"b","l":"d","t":6,"v":0.37},{"p":3,"s":"b","l":"d","t":7,"v":0.25},{"p":3,"s":"b","l":"d","t":8,"v":0.16},{"p":3,"s":"b","l":"d","t":10,"v":0.16},{"p":3,"s":"b","l":"d","t":12,"v":0.24},

{"p":4,"s":"r","l":"a","t":0,"v":-0.52},{"p":4,"s":"r","l":"a","t":1,"v":-0.20},{"p":4,"s":"r","l":"a","t":2,"v":0.20},{"p":4,"s":"r","l":"a","t":3,"v":0.42},{"p":4,"s":"r","l":"a","t":4,"v":0.51},{"p":4,"s":"r","l":"a","t":5,"v":0.55},{"p":4,"s":"r","l":"a","t":6,"v":0.57},{"p":4,"s":"r","l":"a","t":7,"v":0.58},{"p":4,"s":"r","l":"a","t":8,"v":0.57},{"p":4,"s":"r","l":"a","t":10,"v":0.49},{"p":4,"s":"r","l":"a","t":12,"v":0.34},
{"p":4,"s":"r","l":"d","t":0,"v":-0.55},{"p":4,"s":"r","l":"d","t":1,"v":-0.18},{"p":4,"s":"r","l":"d","t":2,"v":0.17},{"p":4,"s":"r","l":"d","t":3,"v":0.38},{"p":4,"s":"r","l":"d","t":4,"v":0.48},{"p":4,"s":"r","l":"d","t":5,"v":0.57},{"p":4,"s":"r","l":"d","t":6,"v":0.64},{"p":4,"s":"r","l":"d","t":7,"v":0.72},{"p":4,"s":"r","l":"d","t":8,"v":0.76},{"p":4,"s":"r","l":"d","t":10,"v":0.50},{"p":4,"s":"r","l":"d","t":12,"v":0.06},
{"p":4,"s":"b","l":"a","t":0,"v":-0.37},{"p":4,"s":"b","l":"a","t":1,"v":-0.20},{"p":4,"s":"b","l":"a","t":2,"v":-0.08},{"p":4,"s":"b","l":"a","t":3,"v":0.00},{"p":4,"s":"b","l":"a","t":4,"v":0.05},{"p":4,"s":"b","l":"a","t":5,"v":0.09},{"p":4,"s":"b","l":"a","t":6,"v":0.14},{"p":4,"s":"b","l":"a","t":7,"v":0.19},{"p":4,"s":"b","l":"a","t":8,"v":0.23},{"p":4,"s":"b","l":"a","t":10,"v":0.25},{"p":4,"s":"b","l":"a","t":12,"v":0.23},
{"p":4,"s":"b","l":"d","t":0,"v":-0.30},{"p":4,"s":"b","l":"d","t":1,"v":-0.22},{"p":4,"s":"b","l":"d","t":2,"v":-0.10},{"p":4,"s":"b","l":"d","t":3,"v":-0.04},{"p":4,"s":"b","l":"d","t":4,"v":0.03},{"p":4,"s":"b","l":"d","t":5,"v":0.06},{"p":4,"s":"b","l":"d","t":6,"v":0.08},{"p":4,"s":"b","l":"d","t":7,"v":0.10},{"p":4,"s":"b","l":"d","t":8,"v":0.13},{"p":4,"s":"b","l":"d","t":10,"v":0.22},{"p":4,"s":"b","l":"d","t":12,"v":0.38},

{"p":5,"s":"r","l":"a","t":0,"v":-0.30},{"p":5,"s":"r","l":"a","t":1,"v":0.90},{"p":5,"s":"r","l":"a","t":2,"v":2.00},{"p":5,"s":"r","l":"a","t":3,"v":1.98},{"p":5,"s":"r","l":"a","t":4,"v":1.30},{"p":5,"s":"r","l":"a","t":5,"v":0.85},{"p":5,"s":"r","l":"a","t":6,"v":0.58},{"p":5,"s":"r","l":"a","t":7,"v":0.62},{"p":5,"s":"r","l":"a","t":8,"v":0.68},{"p":5,"s":"r","l":"a","t":10,"v":0.55},{"p":5,"s":"r","l":"a","t":12,"v":0.15},
{"p":5,"s":"r","l":"d","t":0,"v":-0.35},{"p":5,"s":"r","l":"d","t":1,"v":0.80},{"p":5,"s":"r","l":"d","t":2,"v":1.90},{"p":5,"s":"r","l":"d","t":3,"v":1.95},{"p":5,"s":"r","l":"d","t":4,"v":1.35},{"p":5,"s":"r","l":"d","t":5,"v":0.80},{"p":5,"s":"r","l":"d","t":6,"v":0.55},{"p":5,"s":"r","l":"d","t":7,"v":0.52},{"p":5,"s":"r","l":"d","t":8,"v":0.55},{"p":5,"s":"r","l":"d","t":10,"v":0.48},{"p":5,"s":"r","l":"d","t":12,"v":0.35},
{"p":5,"s":"b","l":"a","t":0,"v":0.02},{"p":5,"s":"b","l":"a","t":1,"v":0.38},{"p":5,"s":"b","l":"a","t":2,"v":0.65},{"p":5,"s":"b","l":"a","t":3,"v":0.75},{"p":5,"s":"b","l":"a","t":4,"v":0.74},{"p":5,"s":"b","l":"a","t":5,"v":0.70},{"p":5,"s":"b","l":"a","t":6,"v":0.68},{"p":5,"s":"b","l":"a","t":7,"v":0.67},{"p":5,"s":"b","l":"a","t":8,"v":0.65},{"p":5,"s":"b","l":"a","t":10,"v":0.50},{"p":5,"s":"b","l":"a","t":12,"v":0.22},
{"p":5,"s":"b","l":"d","t":0,"v":0.08},{"p":5,"s":"b","l":"d","t":1,"v":0.42},{"p":5,"s":"b","l":"d","t":2,"v":0.60},{"p":5,"s":"b","l":"d","t":3,"v":0.72},{"p":5,"s":"b","l":"d","t":4,"v":0.74},{"p":5,"s":"b","l":"d","t":5,"v":0.72},{"p":5,"s":"b","l":"d","t":6,"v":0.70},{"p":5,"s":"b","l":"d","t":7,"v":0.68},{"p":5,"s":"b","l":"d","t":8,"v":0.60},{"p":5,"s":"b","l":"d","t":10,"v":0.40},{"p":5,"s":"b","l":"d","t":12,"v":0.25},

{"p":6,"s":"r","l":"a","t":0,"v":-0.50},{"p":6,"s":"r","l":"a","t":1,"v":-0.05},{"p":6,"s":"r","l":"a","t":2,"v":0.30},{"p":6,"s":"r","l":"a","t":3,"v":0.38},{"p":6,"s":"r","l":"a","t":4,"v":0.37},{"p":6,"s":"r","l":"a","t":5,"v":0.36},{"p":6,"s":"r","l":"a","t":6,"v":0.35},{"p":6,"s":"r","l":"a","t":7,"v":0.38},{"p":6,"s":"r","l":"a","t":8,"v":0.42},{"p":6,"s":"r","l":"a","t":10,"v":0.32},{"p":6,"s":"r","l":"a","t":12,"v":0.04},
{"p":6,"s":"r","l":"d","t":0,"v":-0.20},{"p":6,"s":"r","l":"d","t":1,"v":0.00},{"p":6,"s":"r","l":"d","t":2,"v":0.22},{"p":6,"s":"r","l":"d","t":3,"v":0.33},{"p":6,"s":"r","l":"d","t":4,"v":0.36},{"p":6,"s":"r","l":"d","t":5,"v":0.38},{"p":6,"s":"r","l":"d","t":6,"v":0.38},{"p":6,"s":"r","l":"d","t":7,"v":0.34},{"p":6,"s":"r","l":"d","t":8,"v":0.30},{"p":6,"s":"r","l":"d","t":10,"v":0.22},{"p":6,"s":"r","l":"d","t":12,"v":0.10},
{"p":6,"s":"b","l":"a","t":0,"v":0.46},{"p":6,"s":"b","l":"a","t":1,"v":0.38},{"p":6,"s":"b","l":"a","t":2,"v":0.33},{"p":6,"s":"b","l":"a","t":3,"v":0.35},{"p":6,"s":"b","l":"a","t":4,"v":0.42},{"p":6,"s":"b","l":"a","t":5,"v":0.52},{"p":6,"s":"b","l":"a","t":6,"v":0.60},{"p":6,"s":"b","l":"a","t":7,"v":0.64},{"p":6,"s":"b","l":"a","t":8,"v":0.65},{"p":6,"s":"b","l":"a","t":10,"v":0.64},{"p":6,"s":"b","l":"a","t":12,"v":0.58},
{"p":6,"s":"b","l":"d","t":0,"v":0.62},{"p":6,"s":"b","l":"d","t":1,"v":0.40},{"p":6,"s":"b","l":"d","t":2,"v":0.33},{"p":6,"s":"b","l":"d","t":3,"v":0.34},{"p":6,"s":"b","l":"d","t":4,"v":0.42},{"p":6,"s":"b","l":"d","t":5,"v":0.53},{"p":6,"s":"b","l":"d","t":6,"v":0.60},{"p":6,"s":"b","l":"d","t":7,"v":0.62},{"p":6,"s":"b","l":"d","t":8,"v":0.63},{"p":6,"s":"b","l":"d","t":10,"v":0.64},{"p":6,"s":"b","l":"d","t":12,"v":0.70},

{"p":7,"s":"r","l":"a","t":0,"v":-0.32},{"p":7,"s":"r","l":"a","t":1,"v":0.45},{"p":7,"s":"r","l":"a","t":2,"v":1.14},{"p":7,"s":"r","l":"a","t":3,"v":1.18},{"p":7,"s":"r","l":"a","t":4,"v":0.85},{"p":7,"s":"r","l":"a","t":5,"v":0.52},{"p":7,"s":"r","l":"a","t":6,"v":0.33},{"p":7,"s":"r","l":"a","t":7,"v":0.22},{"p":7,"s":"r","l":"a","t":8,"v":0.15},{"p":7,"s":"r","l":"a","t":10,"v":0.02},{"p":7,"s":"r","l":"a","t":12,"v":-0.22},
{"p":7,"s":"r","l":"d","t":0,"v":-0.38},{"p":7,"s":"r","l":"d","t":1,"v":0.45},{"p":7,"s":"r","l":"d","t":2,"v":1.05},{"p":7,"s":"r","l":"d","t":3,"v":1.10},{"p":7,"s":"r","l":"d","t":4,"v":0.88},{"p":7,"s":"r","l":"d","t":5,"v":0.56},{"p":7,"s":"r","l":"d","t":6,"v":0.34},{"p":7,"s":"r","l":"d","t":7,"v":0.22},{"p":7,"s":"r","l":"d","t":8,"v":0.12},{"p":7,"s":"r","l":"d","t":10,"v":-0.03},{"p":7,"s":"r","l":"d","t":12,"v":-0.28},
{"p":7,"s":"b","l":"a","t":0,"v":0.57},{"p":7,"s":"b","l":"a","t":1,"v":0.63},{"p":7,"s":"b","l":"a","t":2,"v":0.66},{"p":7,"s":"b","l":"a","t":3,"v":0.60},{"p":7,"s":"b","l":"a","t":4,"v":0.47},{"p":7,"s":"b","l":"a","t":5,"v":0.37},{"p":7,"s":"b","l":"a","t":6,"v":0.31},{"p":7,"s":"b","l":"a","t":7,"v":0.29},{"p":7,"s":"b","l":"a","t":8,"v":0.28},{"p":7,"s":"b","l":"a","t":10,"v":0.25},{"p":7,"s":"b","l":"a","t":12,"v":0.16},
{"p":7,"s":"b","l":"d","t":0,"v":0.63},{"p":7,"s":"b","l":"d","t":1,"v":0.60},{"p":7,"s":"b","l":"d","t":2,"v":0.54},{"p":7,"s":"b","l":"d","t":3,"v":0.49},{"p":7,"s":"b","l":"d","t":4,"v":0.43},{"p":7,"s":"b","l":"d","t":5,"v":0.36},{"p":7,"s":"b","l":"d","t":6,"v":0.31},{"p":7,"s":"b","l":"d","t":7,"v":0.28},{"p":7,"s":"b","l":"d","t":8,"v":0.26},{"p":7,"s":"b","l":"d","t":10,"v":0.22},{"p":7,"s":"b","l":"d","t":12,"v":0.15},

{"p":8,"s":"r","l":"a","t":0,"v":1.15},{"p":8,"s":"r","l":"a","t":1,"v":0.30},{"p":8,"s":"r","l":"a","t":2,"v":-0.45},{"p":8,"s":"r","l":"a","t":3,"v":-0.72},{"p":8,"s":"r","l":"a","t":4,"v":-0.70},{"p":8,"s":"r","l":"a","t":5,"v":-0.62},{"p":8,"s":"r","l":"a","t":6,"v":-0.60},{"p":8,"s":"r","l":"a","t":7,"v":-0.65},{"p":8,"s":"r","l":"a","t":8,"v":-0.70},{"p":8,"s":"r","l":"a","t":10,"v":-0.58},{"p":8,"s":"r","l":"a","t":12,"v":-0.30},
{"p":8,"s":"r","l":"d","t":0,"v":0.95},{"p":8,"s":"r","l":"d","t":1,"v":0.25},{"p":8,"s":"r","l":"d","t":2,"v":-0.30},{"p":8,"s":"r","l":"d","t":3,"v":-0.65},{"p":8,"s":"r","l":"d","t":4,"v":-0.72},{"p":8,"s":"r","l":"d","t":5,"v":-0.73},{"p":8,"s":"r","l":"d","t":6,"v":-0.72},{"p":8,"s":"r","l":"d","t":7,"v":-0.68},{"p":8,"s":"r","l":"d","t":8,"v":-0.58},{"p":8,"s":"r","l":"d","t":10,"v":-0.40},{"p":8,"s":"r","l":"d","t":12,"v":-0.08},
{"p":8,"s":"b","l":"a","t":0,"v":0.20},{"p":8,"s":"b","l":"a","t":1,"v":0.19},{"p":8,"s":"b","l":"a","t":2,"v":0.18},{"p":8,"s":"b","l":"a","t":3,"v":0.18},{"p":8,"s":"b","l":"a","t":4,"v":0.18},{"p":8,"s":"b","l":"a","t":5,"v":0.18},{"p":8,"s":"b","l":"a","t":6,"v":0.19},{"p":8,"s":"b","l":"a","t":7,"v":0.21},{"p":8,"s":"b","l":"a","t":8,"v":0.20},{"p":8,"s":"b","l":"a","t":10,"v":0.08},{"p":8,"s":"b","l":"a","t":12,"v":-0.10},
{"p":8,"s":"b","l":"d","t":0,"v":0.15},{"p":8,"s":"b","l":"d","t":1,"v":0.20},{"p":8,"s":"b","l":"d","t":2,"v":0.20},{"p":8,"s":"b","l":"d","t":3,"v":0.18},{"p":8,"s":"b","l":"d","t":4,"v":0.17},{"p":8,"s":"b","l":"d","t":5,"v":0.18},{"p":8,"s":"b","l":"d","t":6,"v":0.19},{"p":8,"s":"b","l":"d","t":7,"v":0.20},{"p":8,"s":"b","l":"d","t":8,"v":0.17},{"p":8,"s":"b","l":"d","t":10,"v":0.07},{"p":8,"s":"b","l":"d","t":12,"v":-0.08},

{"p":9,"s":"r","l":"a","t":0,"v":1.23},{"p":9,"s":"r","l":"a","t":1,"v":0.80},{"p":9,"s":"r","l":"a","t":2,"v":0.48},{"p":9,"s":"r","l":"a","t":3,"v":0.35},{"p":9,"s":"r","l":"a","t":4,"v":0.38},{"p":9,"s":"r","l":"a","t":5,"v":0.43},{"p":9,"s":"r","l":"a","t":6,"v":0.43},{"p":9,"s":"r","l":"a","t":7,"v":0.38},{"p":9,"s":"r","l":"a","t":8,"v":0.31},{"p":9,"s":"r","l":"a","t":10,"v":0.12},{"p":9,"s":"r","l":"a","t":12,"v":-0.08},
{"p":9,"s":"r","l":"d","t":0,"v":1.25},{"p":9,"s":"r","l":"d","t":1,"v":0.85},{"p":9,"s":"r","l":"d","t":2,"v":0.48},{"p":9,"s":"r","l":"d","t":3,"v":0.36},{"p":9,"s":"r","l":"d","t":4,"v":0.40},{"p":9,"s":"r","l":"d","t":5,"v":0.48},{"p":9,"s":"r","l":"d","t":6,"v":0.47},{"p":9,"s":"r","l":"d","t":7,"v":0.38},{"p":9,"s":"r","l":"d","t":8,"v":0.27},{"p":9,"s":"r","l":"d","t":10,"v":0.10},{"p":9,"s":"r","l":"d","t":12,"v":0.00},
{"p":9,"s":"b","l":"a","t":0,"v":0.66},{"p":9,"s":"b","l":"a","t":1,"v":0.92},{"p":9,"s":"b","l":"a","t":2,"v":1.17},{"p":9,"s":"b","l":"a","t":3,"v":1.12},{"p":9,"s":"b","l":"a","t":4,"v":0.88},{"p":9,"s":"b","l":"a","t":5,"v":0.70},{"p":9,"s":"b","l":"a","t":6,"v":0.63},{"p":9,"s":"b","l":"a","t":7,"v":0.62},{"p":9,"s":"b","l":"a","t":8,"v":0.61},{"p":9,"s":"b","l":"a","t":10,"v":0.53},{"p":9,"s":"b","l":"a","t":12,"v":0.38},
{"p":9,"s":"b","l":"d","t":0,"v":0.60},{"p":9,"s":"b","l":"d","t":1,"v":0.90},{"p":9,"s":"b","l":"d","t":2,"v":1.16},{"p":9,"s":"b","l":"d","t":3,"v":1.05},{"p":9,"s":"b","l":"d","t":4,"v":0.82},{"p":9,"s":"b","l":"d","t":5,"v":0.62},{"p":9,"s":"b","l":"d","t":6,"v":0.55},{"p":9,"s":"b","l":"d","t":7,"v":0.52},{"p":9,"s":"b","l":"d","t":8,"v":0.57},{"p":9,"s":"b","l":"d","t":10,"v":0.48},{"p":9,"s":"b","l":"d","t":12,"v":0.22}
]
},
"concat":[
{"title":"C15B12.1\u00a0 , p-value =\u00a0 0.7912","width":168,"height":202,
 "encoding":{"x":{"field":"t","type":"quantitative","scale":{"domain":[-0.48,12.48],"nice":false,"zero":false},"axis":{"values":[0,2,4,6,8,10,12]}},
  "y":{"field":"v","type":"quantitative","scale":{"domain":[-0.90,1.57],"nice":false,"zero":false},"axis":{"values":[-0.5,0,0.5,1,1.5],"format":".1f"}},
  "color":{"field":"s","type":"nominal","scale":{"domain":["r","b"],"range":["#ff0000","#0000ff"]},"legend":null}},
 "layer":[
  {"data":{"name":"P"},"transform":[{"filter":"datum.p==1"}],"mark":{"type":"point","filled":false,"size":28,"strokeWidth":1},"encoding":{"shape":{"field":"s","type":"nominal","scale":{"domain":["r","b"],"range":["circle","M-1,-1L1,1M-1,1L1,-1"]},"legend":null}}},
  {"data":{"name":"L"},"transform":[{"filter":"datum.p==1"}],"mark":{"type":"line","strokeWidth":1.3},"encoding":{"strokeDash":{"field":"l","type":"nominal","scale":{"domain":["a","d"],"range":[[1,0],[6,4]]},"legend":null}}}
 ]},
{"title":"B0212.4\u00a0 , p-value =\u00a0 0.7724","width":168,"height":202,
 "encoding":{"x":{"field":"t","type":"quantitative","scale":{"domain":[-0.48,12.48],"nice":false,"zero":false},"axis":{"values":[0,2,4,6,8,10,12]}},
  "y":{"field":"v","type":"quantitative","scale":{"domain":[-0.93,1.53],"nice":false,"zero":false},"axis":{"values":[-0.5,0,0.5,1,1.5],"format":".1f"}},
  "color":{"field":"s","type":"nominal","scale":{"domain":["r","b"],"range":["#ff0000","#0000ff"]},"legend":null}},
 "layer":[
  {"data":{"name":"P"},"transform":[{"filter":"datum.p==2"}],"mark":{"type":"point","filled":false,"size":28,"strokeWidth":1},"encoding":{"shape":{"field":"s","type":"nominal","scale":{"domain":["r","b"],"range":["circle","M-1,-1L1,1M-1,1L1,-1"]},"legend":null}}},
  {"data":{"name":"L"},"transform":[{"filter":"datum.p==2"}],"mark":{"type":"line","strokeWidth":1.3},"encoding":{"strokeDash":{"field":"l","type":"nominal","scale":{"domain":["a","d"],"range":[[1,0],[6,4]]},"legend":null}}}
 ]},
{"title":"F56H11.6\u00a0 , p-value =\u00a0 0.6652","width":168,"height":202,
 "encoding":{"x":{"field":"t","type":"quantitative","scale":{"domain":[-0.48,12.48],"nice":false,"zero":false},"axis":{"values":[0,2,4,6,8,10,12]}},
  "y":{"field":"v","type":"quantitative","scale":{"domain":[-1.70,1.45],"nice":false,"zero":false},"axis":{"values":[-1.5,-1,-0.5,0,0.5,1],"format":".1f"}},
  "color":{"field":"s","type":"nominal","scale":{"domain":["r","b"],"range":["#ff0000","#0000ff"]},"legend":null}},
 "layer":[
  {"data":{"name":"P"},"transform":[{"filter":"datum.p==3"}],"mark":{"type":"point","filled":false,"size":28,"strokeWidth":1},"encoding":{"shape":{"field":"s","type":"nominal","scale":{"domain":["r","b"],"range":["circle","M-1,-1L1,1M-1,1L1,-1"]},"legend":null}}},
  {"data":{"name":"L"},"transform":[{"filter":"datum.p==3"}],"mark":{"type":"line","strokeWidth":1.3},"encoding":{"strokeDash":{"field":"l","type":"nominal","scale":{"domain":["a","d"],"range":[[1,0],[6,4]]},"legend":null}}}
 ]},
{"title":"F53B1.2\u00a0 , p-value =\u00a0 0.4543","width":168,"height":202,
 "encoding":{"x":{"field":"t","type":"quantitative","scale":{"domain":[-0.48,12.48],"nice":false,"zero":false},"axis":{"values":[0,2,4,6,8,10,12]}},
  "y":{"field":"v","type":"quantitative","scale":{"domain":[-0.96,1.01],"nice":false,"zero":false},"axis":{"values":[-0.5,0,0.5,1],"format":".1f"}},
  "color":{"field":"s","type":"nominal","scale":{"domain":["r","b"],"range":["#ff0000","#0000ff"]},"legend":null}},
 "layer":[
  {"data":{"name":"P"},"transform":[{"filter":"datum.p==4"}],"mark":{"type":"point","filled":false,"size":28,"strokeWidth":1},"encoding":{"shape":{"field":"s","type":"nominal","scale":{"domain":["r","b"],"range":["circle","M-1,-1L1,1M-1,1L1,-1"]},"legend":null}}},
  {"data":{"name":"L"},"transform":[{"filter":"datum.p==4"}],"mark":{"type":"line","strokeWidth":1.3},"encoding":{"strokeDash":{"field":"l","type":"nominal","scale":{"domain":["a","d"],"range":[[1,0],[6,4]]},"legend":null}}}
 ]},
{"title":"Y53F4B.C\u00a0 , p-value =\u00a0 0.3484","width":168,"height":202,
 "encoding":{"x":{"field":"t","type":"quantitative","scale":{"domain":[-0.48,12.48],"nice":false,"zero":false},"axis":{"values":[0,2,4,6,8,10,12]}},
  "y":{"field":"v","type":"quantitative","scale":{"domain":[-1.96,3.08],"nice":false,"zero":false},"axis":{"values":[-1,0,1,2,3],"format":"d"}},
  "color":{"field":"s","type":"nominal","scale":{"domain":["r","b"],"range":["#ff0000","#0000ff"]},"legend":null}},
 "layer":[
  {"data":{"name":"P"},"transform":[{"filter":"datum.p==5"}],"mark":{"type":"point","filled":false,"size":28,"strokeWidth":1},"encoding":{"shape":{"field":"s","type":"nominal","scale":{"domain":["r","b"],"range":["circle","M-1,-1L1,1M-1,1L1,-1"]},"legend":null}}},
  {"data":{"name":"L"},"transform":[{"filter":"datum.p==5"}],"mark":{"type":"line","strokeWidth":1.3},"encoding":{"strokeDash":{"field":"l","type":"nominal","scale":{"domain":["a","d"],"range":[[1,0],[6,4]]},"legend":null}}}
 ]},
{"title":"F52H2.7\u00a0 , p-value =\u00a0 0.3826","width":168,"height":202,
 "encoding":{"x":{"field":"t","type":"quantitative","scale":{"domain":[-0.48,12.48],"nice":false,"zero":false},"axis":{"values":[0,2,4,6,8,10,12]}},
  "y":{"field":"v","type":"quantitative","scale":{"domain":[-1.66,1.35],"nice":false,"zero":false},"axis":{"values":[-1.5,-1,-0.5,0,0.5,1],"format":".1f"}},
  "color":{"field":"s","type":"nominal","scale":{"domain":["r","b"],"range":["#ff0000","#0000ff"]},"legend":null}},
 "layer":[
  {"data":{"name":"P"},"transform":[{"filter":"datum.p==6"}],"mark":{"type":"point","filled":false,"size":28,"strokeWidth":1},"encoding":{"shape":{"field":"s","type":"nominal","scale":{"domain":["r","b"],"range":["circle","M-1,-1L1,1M-1,1L1,-1"]},"legend":null}}},
  {"data":{"name":"L"},"transform":[{"filter":"datum.p==6"}],"mark":{"type":"line","strokeWidth":1.3},"encoding":{"strokeDash":{"field":"l","type":"nominal","scale":{"domain":["a","d"],"range":[[1,0],[6,4]]},"legend":null}}}
 ]},
{"title":"M02F4.2\u00a0 , p-value =\u00a0 0.3471","width":168,"height":202,
 "encoding":{"x":{"field":"t","type":"quantitative","scale":{"domain":[-0.48,12.48],"nice":false,"zero":false},"axis":{"values":[0,2,4,6,8,10,12]}},
  "y":{"field":"v","type":"quantitative","scale":{"domain":[-1.20,1.51],"nice":false,"zero":false},"axis":{"values":[-1,-0.5,0,0.5,1,1.5],"format":".1f"}},
  "color":{"field":"s","type":"nominal","scale":{"domain":["r","b"],"range":["#ff0000","#0000ff"]},"legend":null}},
 "layer":[
  {"data":{"name":"P"},"transform":[{"filter":"datum.p==7"}],"mark":{"type":"point","filled":false,"size":28,"strokeWidth":1},"encoding":{"shape":{"field":"s","type":"nominal","scale":{"domain":["r","b"],"range":["circle","M-1,-1L1,1M-1,1L1,-1"]},"legend":null}}},
  {"data":{"name":"L"},"transform":[{"filter":"datum.p==7"}],"mark":{"type":"line","strokeWidth":1.3},"encoding":{"strokeDash":{"field":"l","type":"nominal","scale":{"domain":["a","d"],"range":[[1,0],[6,4]]},"legend":null}}}
 ]},
{"title":"C04H5.4\u00a0 , p-value =\u00a0 0.3493","width":168,"height":202,
 "encoding":{"x":{"field":"t","type":"quantitative","scale":{"domain":[-0.48,12.48],"nice":false,"zero":false},"axis":{"values":[0,2,4,6,8,10,12]}},
  "y":{"field":"v","type":"quantitative","scale":{"domain":[-2.10,2.18],"nice":false,"zero":false},"axis":{"values":[-2,-1,0,1,2],"format":"d"}},
  "color":{"field":"s","type":"nominal","scale":{"domain":["r","b"],"range":["#ff0000","#0000ff"]},"legend":null}},
 "layer":[
  {"data":{"name":"P"},"transform":[{"filter":"datum.p==8"}],"mark":{"type":"point","filled":false,"size":28,"strokeWidth":1},"encoding":{"shape":{"field":"s","type":"nominal","scale":{"domain":["r","b"],"range":["circle","M-1,-1L1,1M-1,1L1,-1"]},"legend":null}}},
  {"data":{"name":"L"},"transform":[{"filter":"datum.p==8"}],"mark":{"type":"line","strokeWidth":1.3},"encoding":{"strokeDash":{"field":"l","type":"nominal","scale":{"domain":["a","d"],"range":[[1,0],[6,4]]},"legend":null}}}
 ]},
{"title":"F54E7.7\u00a0 , p-value =\u00a0 0.295","width":168,"height":202,
 "encoding":{"x":{"field":"t","type":"quantitative","scale":{"domain":[-0.48,12.48],"nice":false,"zero":false},"axis":{"values":[0,2,4,6,8,10,12]}},
  "y":{"field":"v","type":"quantitative","scale":{"domain":[-0.75,1.83],"nice":false,"zero":false},"axis":{"values":[-0.5,0,0.5,1,1.5],"format":".1f"}},
  "color":{"field":"s","type":"nominal","scale":{"domain":["r","b"],"range":["#ff0000","#0000ff"]},"legend":null}},
 "layer":[
  {"data":{"name":"P"},"transform":[{"filter":"datum.p==9"}],"mark":{"type":"point","filled":false,"size":28,"strokeWidth":1},"encoding":{"shape":{"field":"s","type":"nominal","scale":{"domain":["r","b"],"range":["circle","M-1,-1L1,1M-1,1L1,-1"]},"legend":null}}},
  {"data":{"name":"L"},"transform":[{"filter":"datum.p==9"}],"mark":{"type":"line","strokeWidth":1.3},"encoding":{"strokeDash":{"field":"l","type":"nominal","scale":{"domain":["a","d"],"range":[[1,0],[6,4]]},"legend":null}}}
 ]}
]
}
